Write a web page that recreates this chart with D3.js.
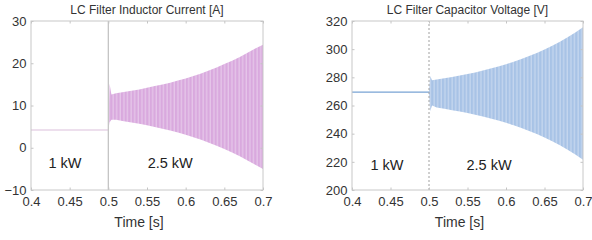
<!DOCTYPE html>
<html>
<head>
<meta charset="utf-8">
<script src="https://cdn.jsdelivr.net/npm/d3@7"></script>
<style>
  body { margin: 0; background: #fff; }
  svg { display: block; font-family: "Liberation Sans", Arial, sans-serif; }
</style>
</head>
<body>
<svg id="chart" width="592" height="240"></svg>
<script>
// tick values
var timeTicks = [0.4, 0.45, 0.5, 0.55, 0.6, 0.65, 0.7];
var currentTicks = [-10, 0, 10, 20, 30];
var voltageTicks = [200, 220, 240, 260, 280, 300, 320];

// load step at t = 0.5 s
var stepTime = 0.5;
var preTime = [0.4, 0.5];
var preCurrent = [4.2, 4.2];
var preVoltage = [269.5, 269.5];

// oscillation envelope (after the step)
var envTime = [0.5, 0.5015, 0.504, 0.51, 0.52, 0.53, 0.54, 0.55, 0.56, 0.57, 0.58, 0.59,
               0.6, 0.61, 0.62, 0.63, 0.64, 0.65, 0.66, 0.67, 0.68, 0.69, 0.7];
var currentUpper = [4.2, 15.2, 12.6, 12.9, 13.2, 13.5, 13.8, 14.2, 14.6, 15.0, 15.4, 15.9,
                    16.4, 17.0, 17.6, 18.3, 19.0, 19.8, 20.6, 21.5, 22.5, 23.5, 24.4];
var currentLower = [4.2, 6.0, 6.6, 6.6, 6.3, 6.0, 5.7, 5.3, 4.9, 4.5, 4.1, 3.6,
                    3.1, 2.5, 1.9, 1.2, 0.5, -0.3, -1.1, -2.0, -3.0, -4.0, -5.0];
var voltageUpper = [269.5, 281, 278, 278.5, 279.4, 280.3, 281.3, 282.4, 283.5, 284.8, 286.2, 287.7,
                    289.3, 291.1, 293.0, 295.1, 297.3, 299.8, 302.4, 305.3, 308.4, 311.8, 315.5];
var voltageLower = [269.5, 256, 260, 258.5, 257.7, 256.7, 255.7, 254.6, 253.5, 252.2, 250.8, 249.3,
                    247.7, 245.9, 244.0, 241.9, 239.7, 237.2, 234.6, 231.7, 228.6, 225.2, 221.5];

var svg = d3.select("#chart");

function drawPanel(cfg){
  var g = svg.append("g");
  var x = d3.scaleLinear().domain([0.4, 0.7]).range([cfg.left, cfg.right]);
  var y = d3.scaleLinear().domain(cfg.yDomain).range([190, 21]);

  // striped fill to mimic the dense oscillation
  var pat = svg.append("defs").append("pattern")
    .attr("id", cfg.id + "-stripes")
    .attr("patternUnits", "userSpaceOnUse")
    .attr("x", cfg.left).attr("y", 0)
    .attr("width", 3.6).attr("height", 240);
  pat.append("rect").attr("width", 3.6).attr("height", 240).attr("fill", cfg.bandColor);
  pat.append("rect").attr("x", 2.4).attr("width", 0.9).attr("height", 240).attr("fill", cfg.stripeColor);

  // title
  g.append("text")
    .attr("x", (cfg.left + cfg.right) / 2).attr("y", 13.5)
    .attr("text-anchor", "middle")
    .attr("font-size", 12).attr("fill", "#333")
    .text(cfg.title);

  // band
  var bandData = envTime.map(function(t, i){ return {t: t, hi: cfg.upper[i], lo: cfg.lower[i]}; });
  var area = d3.area()
    .x(function(d){ return x(d.t); })
    .y0(function(d){ return y(d.lo); })
    .y1(function(d){ return y(d.hi); });
  g.append("path").attr("d", area(bandData)).attr("fill", "url(#" + cfg.id + "-stripes)");

  // pre-step constant value
  var line = d3.line()
    .x(function(d){ return x(d.t); })
    .y(function(d){ return y(d.v); });
  var preData = preTime.map(function(t, i){ return {t: t, v: cfg.pre[i]}; });
  g.append("path").attr("d", line(preData))
    .attr("fill", "none").attr("stroke", cfg.lineColor).attr("stroke-width", cfg.lineWidth);

  // step marker
  g.append("line")
    .attr("x1", x(stepTime)).attr("x2", x(stepTime))
    .attr("y1", y(cfg.yDomain[0])).attr("y2", y(cfg.yDomain[1]))
    .attr("stroke", cfg.stepColor).attr("stroke-width", cfg.stepWidth)
    .attr("stroke-dasharray", cfg.stepDash);

  // axes (ticks inside, box style)
  var fmt = function(d){ return String(+d.toFixed(2)); };
  var xb = g.append("g").attr("transform", "translate(0,190)")
    .call(d3.axisBottom(x).tickValues(timeTicks).tickFormat(fmt).tickSizeInner(-2.5).tickSizeOuter(0).tickPadding(7));
  var xt = g.append("g").attr("transform", "translate(0,21)")
    .call(d3.axisTop(x).tickValues(timeTicks).tickFormat("").tickSizeInner(-2.5).tickSizeOuter(0));
  var yl = g.append("g").attr("transform", "translate(" + cfg.left + ",0)")
    .call(d3.axisLeft(y).tickValues(cfg.ticks).tickSizeInner(-2.5).tickSizeOuter(0).tickPadding(4.5));
  var yr = g.append("g").attr("transform", "translate(" + cfg.right + ",0)")
    .call(d3.axisRight(y).tickValues(cfg.ticks).tickFormat("").tickSizeInner(-2.5).tickSizeOuter(0));
  [xb, xt, yl, yr].forEach(function(a){
    a.select(".domain").remove();
    a.selectAll(".tick line").attr("stroke", "#c4c4c4");
    a.selectAll("text").attr("font-size", 13).attr("fill", "#333")
      .attr("font-family", "Liberation Sans, Arial, sans-serif");
  });

  // frame
  g.append("rect")
    .attr("x", cfg.left).attr("y", 21)
    .attr("width", cfg.right - cfg.left).attr("height", 169)
    .attr("fill", "none").attr("stroke", "#c8c8c8").attr("stroke-width", 1);

  // x label
  g.append("text")
    .attr("x", (cfg.left + cfg.right) / 2 - 8).attr("y", 227)
    .attr("text-anchor", "middle")
    .attr("font-size", 14).attr("fill", "#333")
    .text("Time [s]");

  // load annotations
  cfg.notes.forEach(function(n){
    g.append("text")
      .attr("x", x(n.t)).attr("y", y(n.v)).attr("dy", "0.35em")
      .attr("text-anchor", "middle")
      .attr("font-size", 14.5).attr("fill", "#222")
      .text(n.label);
  });
}

drawPanel({
  id: "current", left: 31, right: 263,
  yDomain: [-10, 30], ticks: currentTicks,
  title: "LC Filter Inductor Current [A]",
  upper: currentUpper, lower: currentLower, pre: preCurrent,
  bandColor: "#d9a9de", stripeColor: "#ecd3ef",
  lineColor: "#dcc0dc", lineWidth: 1.2,
  stepColor: "#c4c4c4", stepWidth: 1.3, stepDash: null,
  notes: [{label: "1 kW", t: 0.444, v: -3.6}, {label: "2.5 kW", t: 0.58, v: -3.6}]
});

drawPanel({
  id: "voltage", left: 352, right: 583,
  yDomain: [200, 320], ticks: voltageTicks,
  title: "LC Filter Capacitor Voltage [V]",
  upper: voltageUpper, lower: voltageLower, pre: preVoltage,
  bandColor: "#a8c3e6", stripeColor: "#d2e0f2",
  lineColor: "#78a3d4", lineWidth: 1.3,
  stepColor: "#a0a0a0", stepWidth: 1, stepDash: "2,2",
  notes: [{label: "1 kW", t: 0.4455, v: 217.5}, {label: "2.5 kW", t: 0.578, v: 217.5}]
});
</script>
</body>
</html>
